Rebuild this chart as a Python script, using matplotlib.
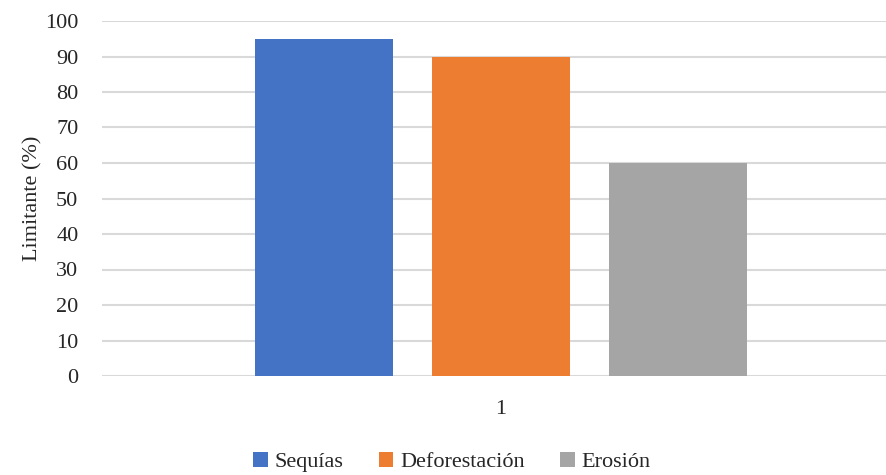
import matplotlib
matplotlib.use("Agg")
import matplotlib.pyplot as plt
from matplotlib.patches import Patch

categories = ["1"]
series_names = ["Sequías", "Deforestación", "Erosión"]
series_values = [95, 90, 60]
colors = ["#4472C4", "#ED7D31", "#A5A5A5"]
yticks = [0, 10, 20, 30, 40, 50, 60, 70, 80, 90, 100]

plt.rcParams["font.family"] = ["Liberation Serif", "DejaVu Serif"]
text_color = "#262626"

fig = plt.figure(figsize=(8.87, 4.75), dpi=100)
ax = fig.add_axes([102 / 887, 99 / 475, 798 / 887, 355 / 475])

bar_width = 0.173
spacing = 0.222
for i, (name, val, c) in enumerate(zip(series_names, series_values, colors)):
    ax.bar(0 + (i - 1) * spacing, val, width=bar_width, color=c, zorder=3, label=name)

ax.set_xlim(-0.5, 0.5)
ax.set_ylim(0, 100)
ax.set_yticks(yticks)
ax.set_xticks([0])
ax.set_xticklabels(categories)
ax.grid(axis="y", color="#d9d9d9", linewidth=1.5, zorder=0)
ax.set_axisbelow(True)
for s in ax.spines.values():
    s.set_visible(False)
ax.tick_params(axis="both", length=0, labelsize=16, colors=text_color)
ax.tick_params(axis="y", pad=17)
ax.tick_params(axis="x", pad=17)
ax.set_ylabel("Limitante (%)", fontsize=16, color=text_color)
ax.yaxis.set_label_coords(-0.074, 0.5)

handles = [Patch(facecolor=c, edgecolor="none") for c in colors]
fig.legend(handles, series_names, loc="center", bbox_to_anchor=(452 / 887, 1 - 462 / 475),
           ncol=3, frameon=False, fontsize=16, handlelength=0.65, handleheight=0.65,
           handletextpad=0.3, columnspacing=1.6, labelcolor=text_color)

fig.savefig("out.png", dpi=100)
